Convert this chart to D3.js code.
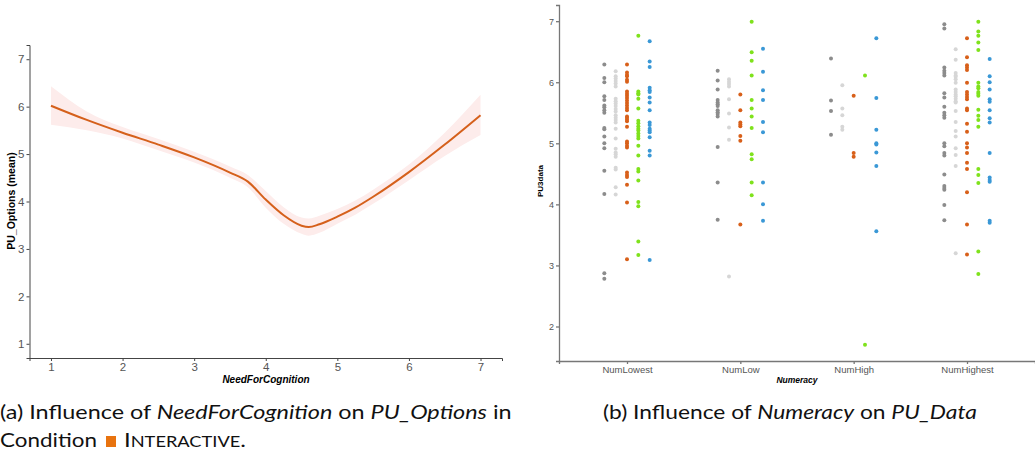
<!DOCTYPE html>
<html>
<head>
<meta charset="utf-8">
<script src="https://cdn.jsdelivr.net/npm/d3@7"></script>
<style>
  body { margin: 0; background: #fff; }
  svg { display: block; }
  .tick text { fill: #555; font-family: "Liberation Sans", Arial, sans-serif; }
  .caption { font-family: Lato, "Noto Sans", sans-serif; fill: #111; }
</style>
</head>
<body>
<div class="chart"></div>
<script>
// panel (a): smoothed PU_Options over NeedForCognition
const nfcX     = [1, 1.5, 2, 2.5, 3, 3.5, 3.75, 4, 4.25, 4.5, 4.6, 4.75, 5, 5.25, 5.5, 6, 6.5, 7]
const puMean   = [6.02, 5.72, 5.45, 5.2, 4.93, 4.61, 4.42, 4.04, 3.71, 3.49, 3.46, 3.52, 3.68, 3.87, 4.1, 4.62, 5.2, 5.82]
const puLower  = [5.62, 5.5, 5.33, 5.08, 4.82, 4.5, 4.3, 3.87, 3.53, 3.32, 3.28, 3.34, 3.53, 3.72, 3.95, 4.45, 4.96, 5.4]
const puUpper  = [6.43, 5.9, 5.57, 5.32, 5.05, 4.74, 4.56, 4.22, 3.88, 3.66, 3.64, 3.7, 3.84, 4.02, 4.25, 4.78, 5.45, 6.25]
const nfcTicks = [1, 2, 3, 4, 5, 6, 7]
const puTicks  = [1, 2, 3, 4, 5, 6, 7]

// panel (b): PU3data by Numeracy, five dodged groups per category
const numCategories = ["NumLowest", "NumLow", "NumHigh", "NumHighest"]
const groupColors = ["#8c8c8c", "#d6d6d6", "#d8601a", "#7fe21c", "#3a98d6"]
const numLowest = [
  [6.29, 6.07, 6.0, 5.77, 5.71, 5.62, 5.59, 5.54, 5.5, 5.25, 5.23, 5.11, 5.0, 4.92, 4.55, 4.17, 2.87, 2.78],
  [6.18, 6.1, 6.06, 6.02, 5.98, 5.93, 5.73, 5.69, 5.65, 5.61, 5.56, 5.52, 5.46, 5.42, 5.38, 5.34, 5.24, 5.08, 4.91, 4.85, 4.82, 4.78, 4.6, 4.57, 4.28, 4.16],
  [6.29, 6.16, 6.12, 6.1, 6.04, 6.01, 5.85, 5.81, 5.78, 5.74, 5.7, 5.66, 5.62, 5.58, 5.54, 5.44, 5.42, 5.39, 5.36, 5.27, 5.03, 5.0, 4.96, 4.93, 4.52, 4.48, 4.45, 4.32, 4.03, 3.1],
  [6.76, 5.85, 5.82, 5.8, 5.73, 5.57, 5.37, 5.33, 5.28, 5.24, 5.21, 5.16, 5.12, 5.08, 4.96, 4.8, 4.58, 4.54, 4.39, 4.04, 3.97, 3.39, 3.17],
  [6.67, 6.34, 6.25, 5.91, 5.87, 5.84, 5.75, 5.67, 5.54, 5.34, 5.3, 5.24, 5.21, 5.18, 5.1, 4.88, 4.8, 3.09]
]
const numLow = [
  [6.19, 6.03, 5.88, 5.71, 5.67, 5.64, 5.61, 5.54, 5.51, 5.48, 5.44, 4.94, 4.36, 3.75],
  [6.05, 6.01, 5.97, 5.93, 5.72, 5.49, 5.26, 5.06, 2.82],
  [5.8, 5.54, 5.34, 5.31, 5.28, 5.12, 5.04, 3.67],
  [6.99, 6.49, 6.35, 6.11, 5.71, 5.57, 5.44, 5.25, 4.82, 4.74, 4.36, 4.15],
  [6.55, 6.17, 5.87, 5.71, 5.35, 5.18, 4.36, 4.0, 3.73]
]
const numHigh = [
  [6.39, 5.7, 5.53, 5.14],
  [5.95, 5.57, 5.46, 5.27, 5.22],
  [5.78, 4.84, 4.78],
  [6.11, 1.7],
  [6.72, 5.74, 5.22, 5.0, 4.98, 4.85, 4.63, 3.56]
]
const numHighest = [
  [6.95, 6.88, 6.24, 6.19, 6.15, 6.11, 5.82, 5.75, 5.6, 5.5, 5.46, 5.42, 5.0, 4.95, 4.84, 4.8, 4.49, 4.3, 4.27, 4.24, 3.99, 3.74],
  [6.54, 6.37, 6.15, 6.11, 6.09, 6.05, 5.99, 5.88, 5.84, 5.8, 5.77, 5.73, 5.69, 5.67, 5.53, 5.35, 5.2, 5.11, 4.92, 4.81, 4.63, 3.2],
  [6.72, 6.41, 6.28, 6.24, 6.2, 5.99, 5.84, 5.8, 5.76, 5.72, 5.57, 5.54, 5.32, 5.19, 5.0, 4.93, 4.84, 4.68, 4.58, 4.2, 3.67, 3.18],
  [6.99, 6.83, 6.76, 6.65, 6.53, 5.99, 5.93, 5.9, 5.84, 5.81, 5.78, 5.55, 5.45, 5.38, 5.27, 4.58, 4.48, 4.35, 3.23, 2.86],
  [6.38, 6.1, 6.0, 5.88, 5.72, 5.68, 5.54, 5.41, 5.34, 4.84, 4.44, 4.4, 4.37, 3.73, 3.7]
]
const numTicks = [2, 3, 4, 5, 6, 7]

const width = 1035
const height = 461
const fontAxis = "'Liberation Sans', Arial, sans-serif"
const intFormat = d3.format("d")

const svg = d3.select(".chart")
  .append("svg")
    .attr("width", width)
    .attr("height", height)

svg.append("rect")
    .attr("width", width)
    .attr("height", height)
    .attr("fill", "white")

// ---------- panel (a) ----------
const xA = d3.scaleLinear().domain([0.7, 7.3]).range([29.5, 502])
const yA = d3.scaleLinear().domain([0.7, 7.3]).range([358, 45])

const smooth = nfcX.map((x, i) => ({x, m: puMean[i], lo: puLower[i], hi: puUpper[i]}))

const panelA = svg.append("g").attr("class", "panel-a")

panelA.append("path")
    .datum(smooth)
    .attr("d", d3.area()
      .x(d => xA(d.x))
      .y0(d => yA(d.lo))
      .y1(d => yA(d.hi))
      .curve(d3.curveMonotoneX))
    .attr("fill", "#fdeceb")

panelA.append("path")
    .datum(smooth)
    .attr("d", d3.line()
      .x(d => xA(d.x))
      .y(d => yA(d.m))
      .curve(d3.curveMonotoneX))
    .attr("fill", "none")
    .attr("stroke", "#d5601b")
    .attr("stroke-width", 2)

panelA.append("g")
    .attr("transform", `translate(0,${yA.range()[0]})`)
    .call(d3.axisBottom(xA).tickValues(nfcTicks).tickFormat(intFormat).tickSize(3).tickPadding(2))
    .call(g => g.selectAll(".domain, .tick line").attr("stroke", "#444"))
    .call(g => g.selectAll(".tick text").attr("font-size", 11.5))

panelA.append("g")
    .attr("transform", `translate(${xA.range()[0]},0)`)
    .call(d3.axisLeft(yA).tickValues(puTicks).tickFormat(intFormat).tickSize(3).tickPadding(2))
    .call(g => g.selectAll(".domain, .tick line").attr("stroke", "#444"))
    .call(g => g.selectAll(".tick text").attr("font-size", 11.5))

panelA.append("text")
    .attr("x", 266)
    .attr("y", 383)
    .attr("text-anchor", "middle")
    .attr("font-family", fontAxis)
    .attr("font-size", 10)
    .attr("font-weight", "bold")
    .attr("font-style", "italic")
    .text("NeedForCognition")

panelA.append("text")
    .attr("transform", "translate(15,201) rotate(-90)")
    .attr("text-anchor", "middle")
    .attr("font-family", fontAxis)
    .attr("font-size", 10.5)
    .attr("font-weight", "bold")
    .text("PU_Options (mean)")

// ---------- panel (b) ----------
const xB = d3.scaleLinear().domain([0.4, 4.6]).range([559, 1035])
const yB = d3.scaleLinear().domain([1.435, 7.265]).range([361, 5])
const dodge = 0.1

const numSeries = [numLowest, numLow, numHigh, numHighest]
const dots = numSeries.flatMap((groups, c) =>
  groups.flatMap((vals, g) => vals.map(v => ({c, g, v}))))

const panelB = svg.append("g").attr("class", "panel-b")

panelB.selectAll(".dot")
  .data(dots)
  .join("circle")
    .attr("class", "dot")
    .attr("cx", d => xB(d.c + 1 + (d.g - 2) * dodge))
    .attr("cy", d => yB(d.v))
    .attr("r", 2)
    .attr("fill", d => groupColors[d.g])

panelB.append("g")
    .attr("transform", `translate(0,${yB.range()[0]})`)
    .call(d3.axisBottom(xB)
      .tickValues(numCategories.map((d, i) => i + 1))
      .tickFormat((d, i) => numCategories[i])
      .tickSize(3).tickPadding(2))
    .call(g => g.selectAll(".domain, .tick line").attr("stroke", "#777").attr("stroke-width", 1.3))
    .call(g => g.selectAll(".tick text").attr("font-size", 9.5))

panelB.append("g")
    .attr("transform", `translate(${xB.range()[0]},0)`)
    .call(d3.axisLeft(yB).tickValues(numTicks).tickFormat(intFormat).tickSize(3).tickPadding(2))
    .call(g => g.selectAll(".domain, .tick line").attr("stroke", "#777").attr("stroke-width", 1.3))
    .call(g => g.selectAll(".tick text").attr("font-size", 9))

panelB.append("text")
    .attr("x", 797)
    .attr("y", 383)
    .attr("text-anchor", "middle")
    .attr("font-family", fontAxis)
    .attr("font-size", 8.5)
    .attr("font-weight", "bold")
    .attr("font-style", "italic")
    .text("Numeracy")

panelB.append("text")
    .attr("transform", "translate(543,181) rotate(-90)")
    .attr("text-anchor", "middle")
    .attr("font-family", fontAxis)
    .attr("font-size", 8)
    .attr("font-weight", "bold")
    .text("PU3data")

// ---------- captions ----------
function caption(parts, x, y, targetWidth) {
  const t = svg.append("text")
      .attr("class", "caption")
      .attr("x", 0)
      .attr("y", 0)
      .attr("font-size", 19)
  parts.forEach(p => {
    t.append("tspan")
        .attr("font-style", p.italic ? "italic" : null)
        .attr("font-size", p.size || null)
        .text(p.text)
  })
  const w = t.node().getComputedTextLength()
  t.attr("transform", `translate(${x},${y}) scale(${targetWidth / w},1)`)
  return t
}

caption([
  {text: "(a) Influence of "},
  {text: "NeedForCognition", italic: true},
  {text: " on "},
  {text: "PU_Options", italic: true},
  {text: " in"}
], 0, 419, 512)

caption([{text: "Condition"}], 0, 447, 97)

svg.append("rect")
    .attr("x", 106)
    .attr("y", 436)
    .attr("width", 10)
    .attr("height", 11)
    .attr("fill", "#e8730f")

caption([
  {text: "I"},
  {text: "NTERACTIVE", size: 14.5},
  {text: "."}
], 124, 447, 122)

caption([
  {text: "(b) Influence of "},
  {text: "Numeracy", italic: true},
  {text: " on "},
  {text: "PU_Data", italic: true}
], 603, 419, 374)
</script>
</body>
</html>
